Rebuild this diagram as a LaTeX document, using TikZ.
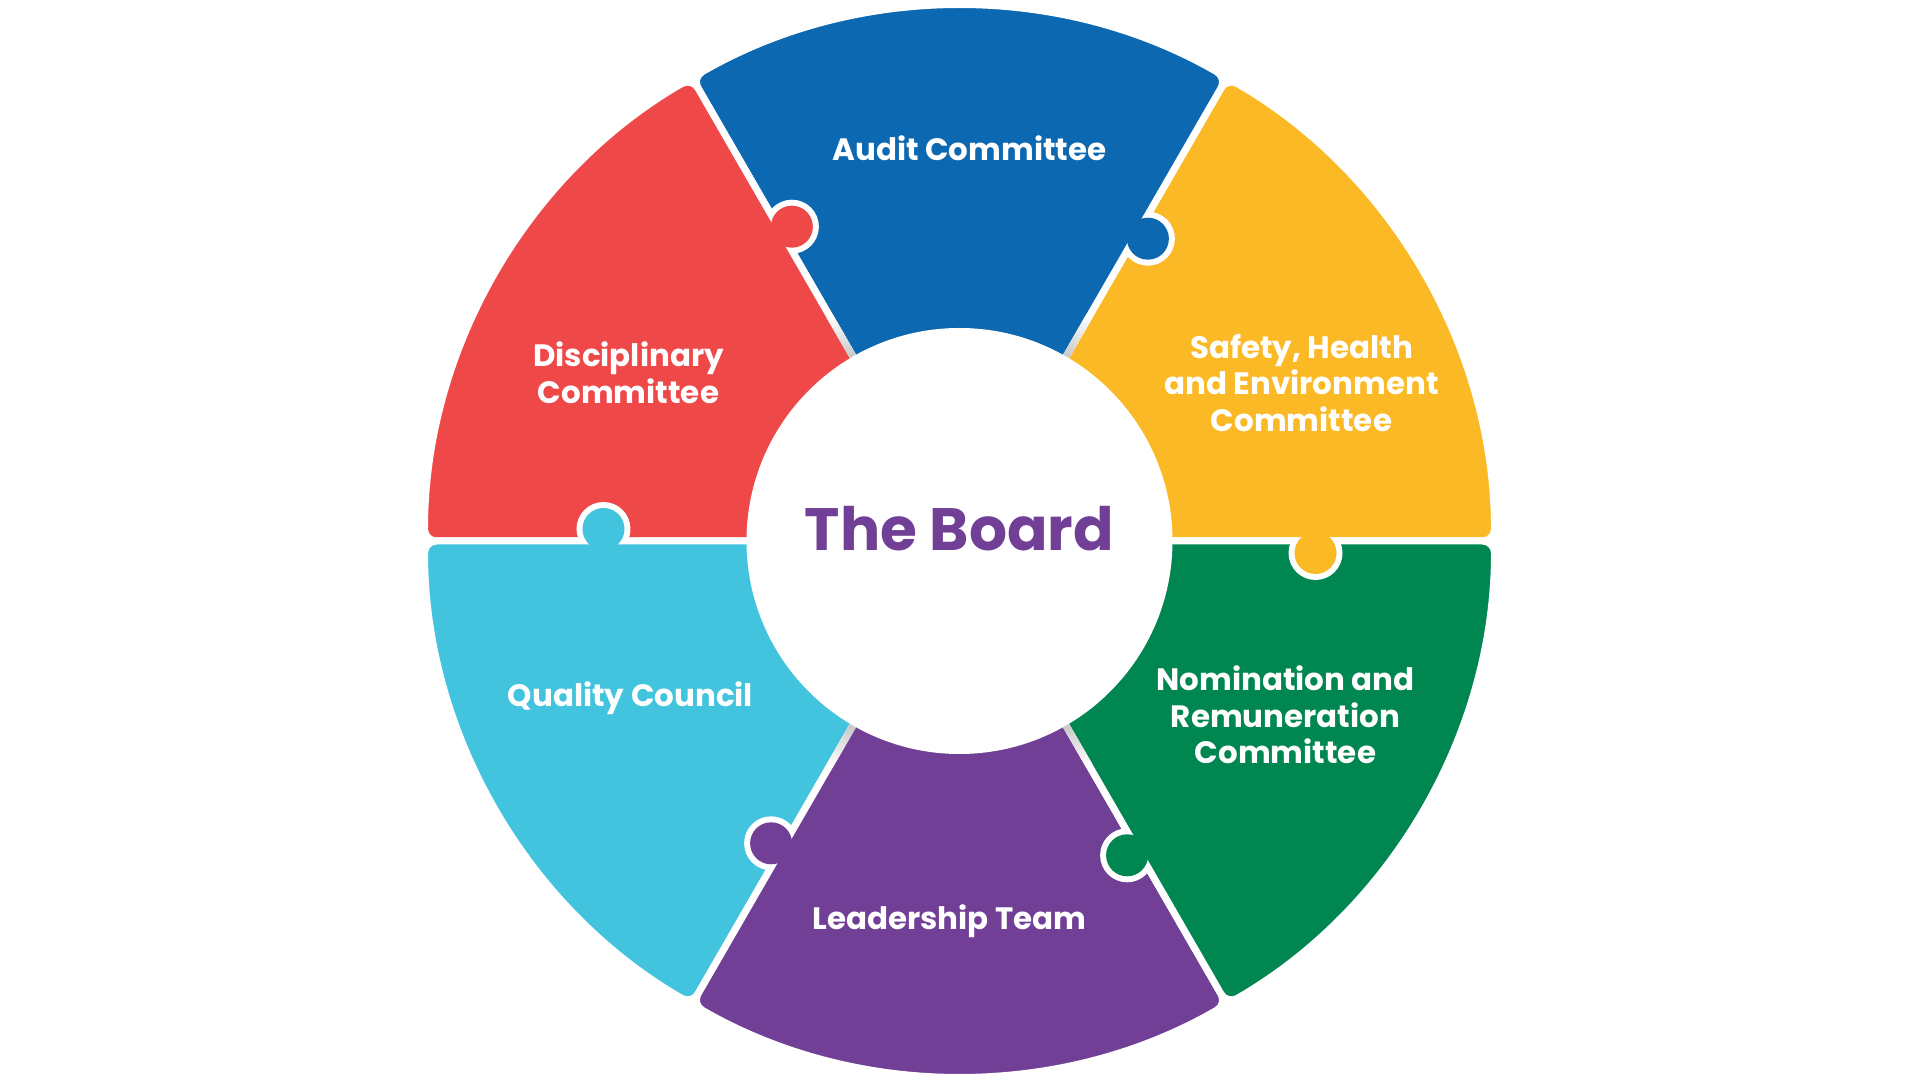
\documentclass[tikz,border=0pt]{standalone}
\usepackage{fontspec}
\setmainfont{Poppins}
\definecolor{boardred}{HTML}{EF4849}
\definecolor{boardblue}{HTML}{0C68B1}
\definecolor{boardyellow}{HTML}{FBB926}
\definecolor{boardgreen}{HTML}{008651}
\definecolor{boardpurple}{HTML}{713F96}
\definecolor{boardcyan}{HTML}{43C4DE}
\tikzset{
  piece/.style={fill=#1, draw=white, line width=0.07cm, rounded corners=0.12cm},
  piecetext/.style={text=white, align=center, font=\bfseries\fontsize{8.8}{10.4}\selectfont},
}

\begin{document}
\begin{tikzpicture}
    \useasboundingbox (-9.595,-5.39) rectangle (9.605,5.41);
    % Draw the six pieces
    \foreach \a/\c in {0/boardyellow,60/boardblue,120/boardred,180/boardcyan,240/boardpurple,300/boardgreen}
        \path[piece=\c] (0,0) -- (\a:5.35) arc (\a:\a+60:5.35) -- cycle;
    % Draw the tabs
    \foreach \a/\c in {0/boardyellow,60/boardblue,120/boardred,180/boardcyan,240/boardpurple,300/boardgreen}{
        \begin{scope}
            \clip (0,0) -- (\a:6) -- (\a-60:6) -- cycle;
            \fill[white] ([shift={(\a-90:0.12)}]\a:3.56) circle (0.27);
        \end{scope}
        \fill[\c] ([shift={(\a-90:0.12)}]\a:3.56) circle (0.21);
    }
    % Draw the shadows in the gaps
    \foreach \a in {60,120,240,300}{
        \begin{scope}[transform canvas={rotate=\a}]
            \shade[left color=gray!55, right color=white] (2.0,-0.035) rectangle (2.6,0.035);
        \end{scope}
    }
    % Draw the centre
    \fill[white] (0,0) circle (2.13);
    \node[text=boardpurple, font=\bfseries\fontsize{17}{20}\selectfont] (board) at (0,0.12) {The Board};
    % Label the pieces
    \node[piecetext] (audit) at (0.10,3.93) {Audit Committee};
    \node[piecetext] (safety) at (3.42,1.58) {Safety, Health\\and Environment\\Committee};
    \node[piecetext] (nomination) at (3.26,-1.74) {Nomination and\\Remuneration\\Committee};
    \node[piecetext] (leadership) at (-0.10,-3.80) {Leadership Team};
    \node[piecetext] (quality) at (-3.29,-1.57) {Quality Council};
    \node[piecetext] (disciplinary) at (-3.31,1.68) {Disciplinary\\Committee};
\end{tikzpicture}
\end{document}
